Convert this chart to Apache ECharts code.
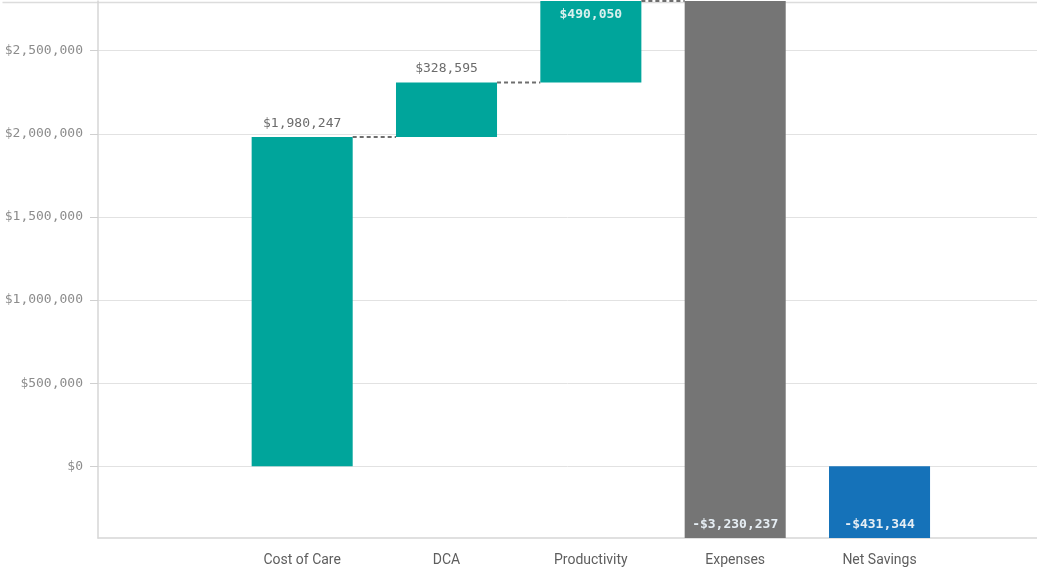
<!DOCTYPE html>
<html>
<head>
<meta charset="utf-8">
<script src="https://cdn.jsdelivr.net/npm/echarts@6/dist/echarts.min.js"></script>
<style>
html,body{margin:0;padding:0;background:#fff;}
#chart{width:1037px;height:569px;}
</style>
</head>
<body>
<div id="chart"></div>
<script>
// ---- data ----
const categories = ['Cost of Care', 'DCA', 'Productivity', 'Expenses', 'Net Savings'];
const values = [1980247, 328595, 490050, -3230237, -431344];
const kinds = ['delta', 'delta', 'delta', 'delta', 'total'];
const yTickValues = [0, 500000, 1000000, 1500000, 2000000, 2500000];

// ---- waterfall ranges ----
const ranges = [];
let running = 0;
values.forEach(function (v, i) {
  if (kinds[i] === 'total') {
    ranges.push([i, 0, v, v]);
  } else {
    ranges.push([i, running, running + v, v]);
    running += v;
  }
});
let yMin = 0, yMax = 0;
ranges.forEach(function (r) {
  yMin = Math.min(yMin, r[1], r[2]);
  yMax = Math.max(yMax, r[1], r[2]);
});

function fmtMoney(v) {
  const s = '$' + Math.abs(Math.round(v)).toLocaleString('en-US');
  return v < 0 ? '-' + s : s;
}

const TEAL = '#00a59b', GRAY = '#757575', BLUE = '#1572b9';
const monoFont = '"DejaVu Sans Mono", monospace';

const chart = echarts.init(document.getElementById('chart'), null, {renderer: 'canvas'});

const option = {
  animation: false,
  graphic: [{
    type: 'line', left: 0, top: 0,
    shape: {x1: 0, y1: 0.5, x2: 1037, y2: 0.5},
    style: {stroke: '#dcdcdc', lineWidth: 1.5}
  }],
  grid: [
    {left: 98, right: 0, top: 1, bottom: 31, containLabel: false},
    {left: 230, right: 85.3, top: 1, bottom: 31, containLabel: false}
  ],
  xAxis: [
    {
      gridIndex: 0, type: 'value', min: 0, max: 1,
      axisLine: {show: true, onZero: false, lineStyle: {color: '#d6d6d6', width: 1.5}},
      axisTick: {show: false}, axisLabel: {show: false}, splitLine: {show: false}
    },
    {
      gridIndex: 1, type: 'category', data: categories,
      axisLine: {show: false, onZero: false},
      axisTick: {show: false},
      axisLabel: {show: true, color: '#5e5e5e', fontFamily: 'Roboto', fontSize: 14, margin: 15},
      splitLine: {show: false}
    }
  ],
  yAxis: [
    {
      gridIndex: 0, type: 'value', min: yMin, max: yMax,
      axisLine: {show: true, lineStyle: {color: '#d6d6d6', width: 1.5}},
      axisTick: {show: true, length: 8, customValues: yTickValues, lineStyle: {color: '#d0d0d0'}},
      axisLabel: {
        show: true, customValues: yTickValues, margin: 15,
        color: '#8c8c8c', fontFamily: monoFont, fontSize: 13,
        formatter: function (v) { return (Math.abs(v % 500000) < 1) ? fmtMoney(v) : ''; }
      },
      splitLine: {show: true, lineStyle: {color: '#e2e2e2', width: 1}}
    },
    {
      gridIndex: 1, type: 'value', min: yMin, max: yMax, show: false,
      splitLine: {show: false}
    }
  ],
  series: [
    {
      type: 'custom',
      xAxisIndex: 1, yAxisIndex: 1,
      data: ranges,
      renderItem: function (params, api) {
        const idx = api.value(0);
        const start = api.value(1);
        const end = api.value(2);
        const val = api.value(3);
        const kind = kinds[idx];
        const bandW = api.size([1, 0])[0];
        const w = bandW * 0.7;
        const pS = api.coord([idx, start]);
        const pE = api.coord([idx, end]);
        const x = pS[0] - w / 2;
        const yTop = Math.min(pS[1], pE[1]);
        const yBot = Math.max(pS[1], pE[1]);
        const color = kind === 'total' ? BLUE : (val >= 0 ? TEAL : GRAY);
        const children = [{
          type: 'rect',
          shape: {x: x, y: yTop, width: w, height: yBot - yTop},
          style: {fill: color}
        }];
        // label
        const gridTop = params.coordSys.y;
        let lx = pS[0], ly, vAlign, fill, weight;
        if (val >= 0 && kind !== 'total') {
          if (yTop - gridTop > 30) {
            ly = yTop - 7; vAlign = 'bottom'; fill = '#6b6b6b'; weight = 'normal';
          } else {
            ly = yTop + 7; vAlign = 'top'; fill = '#d9f0ee'; weight = 'bold';
          }
        } else {
          ly = yBot - 7; vAlign = 'bottom'; fill = '#e6eef4'; weight = 'bold';
        }
        children.push({
          type: 'text',
          style: {
            text: fmtMoney(val), x: lx, y: ly,
            align: 'center', verticalAlign: vAlign,
            textAlign: 'center', textVerticalAlign: vAlign,
            fill: fill, font: weight + ' 13px ' + monoFont
          }
        });
        // connector
        if (idx + 1 < kinds.length && kinds[idx + 1] !== 'total') {
          const nx = api.coord([idx + 1, end])[0] - w / 2;
          children.push({
            type: 'line',
            shape: {x1: x + w, y1: pE[1], x2: nx, y2: pE[1]},
            style: {stroke: '#6e6e6e', lineWidth: 2, lineDash: [4, 3]}
          });
        }
        return {type: 'group', children: children};
      }
    }
  ]
};
chart.setOption(option);
</script>
</body>
</html>
